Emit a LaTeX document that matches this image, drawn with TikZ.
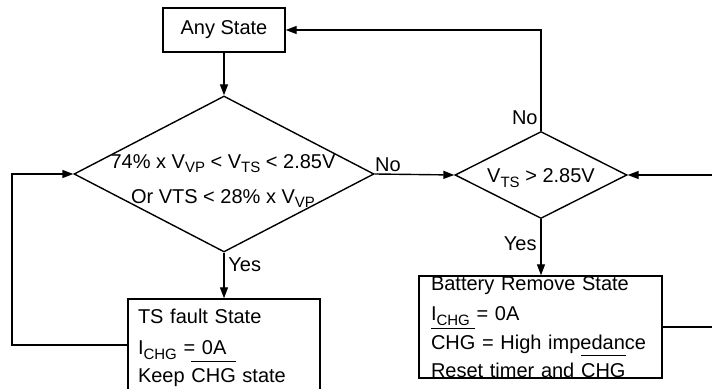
\documentclass[tikz,border=0pt]{standalone}
\usepackage{fontspec}
\setmainfont{Liberation Sans}
\usetikzlibrary{shapes.geometric,arrows.meta}
\newsavebox\ovlbox
\newcommand\sbs[1]{\raisebox{-0.45ex}{\fontsize{7.5}{8}\selectfont #1}}
\newcommand\ovl[1]{\leavevmode\sbox\ovlbox{#1}\rlap{\rule[10.3pt]{\wd\ovlbox}{0.5pt}}\usebox\ovlbox}
\begin{document}
\begin{tikzpicture}[x=0.5pt,y=-0.5pt,
  font=\fontsize{10}{12.5}\selectfont,
  line/.style={line width=0.7pt},
  arr/.style={line, -{Triangle[length=5.5pt,width=4pt]}},
  box/.style={draw, line width=0.7pt, rectangle, inner sep=0pt},
  dia/.style={draw, line width=0.7pt, diamond, inner sep=0pt},
  lbl/.style={inner sep=0pt}]
\useasboundingbox (0,0) rectangle (712,389);
\fill[white] (0,0) rectangle (712,389);

\node[box, minimum width=61pt, minimum height=22pt] (any) at (224,30) {Any State};
\node[dia, minimum width=150pt, minimum height=78pt] (d1) at (224,174) {};
\node[lbl, align=center] (d1t) at (223,181)
  {74\% x V\sbs{VP} < V\sbs{TS} < 2.85V\\[5pt] Or VTS < 28\% x V\sbs{VP}};
\node[dia, minimum width=86pt, minimum height=43.5pt] (d2) at (541,175) {};
\node[lbl] (d2t) at (541,178) {V\sbs{TS} > 2.85V};

\node[box, minimum width=96pt, minimum height=49pt, inner xsep=5pt,
  text width=86pt, align=left] (ts) at (224,348)
  {TS fault State\\[3pt] I\sbs{CHG} = 0A\\[-0.5pt] Keep \ovl{CHG} state};
\node[box, minimum width=121.5pt, minimum height=51pt, inner xsep=6pt,
  text width=109.5pt, align=left] (bb) at (540.5,327)
  {Battery Remove State\\[2.5pt] I\sbs{CHG} = 0A\\ \ovl{CHG} = High impedance\\ Reset timer and \ovl{CHG}};

\coordinate (lp) at (12,174);
\coordinate (rin) at (714,175);
\coordinate (rout) at (714,327);

\draw[arr] (any.south) -- (d1.north);
\draw[arr] (d1.east) -- (d2.west);
\draw[arr] (d1.south) -- (ts.north);
\draw[arr] (d2.south) -- (d2.south |- bb.north);
\draw[arr] (d2.north) |- (any.east);
\draw[arr] ([yshift=1.5pt]ts.west) -| (lp) -- (d1.west);
\draw[arr] (rin) -- (d2.east);
\draw[line] (bb.east) -- (rout);

\node[lbl, anchor=base west] (no1) at ([yshift=1pt]d1.east) {No};
\node[lbl, anchor=base east] (no2) at ([xshift=-1.5pt,yshift=3pt]d2.north) {No};
\node[lbl, anchor=base west] (yes1) at ([xshift=2pt,yshift=-9.5pt]d1.south) {Yes};
\node[lbl, anchor=base east] (yes2) at ([xshift=-2pt,yshift=-15.5pt]d2.south) {Yes};
\end{tikzpicture}
\end{document}
